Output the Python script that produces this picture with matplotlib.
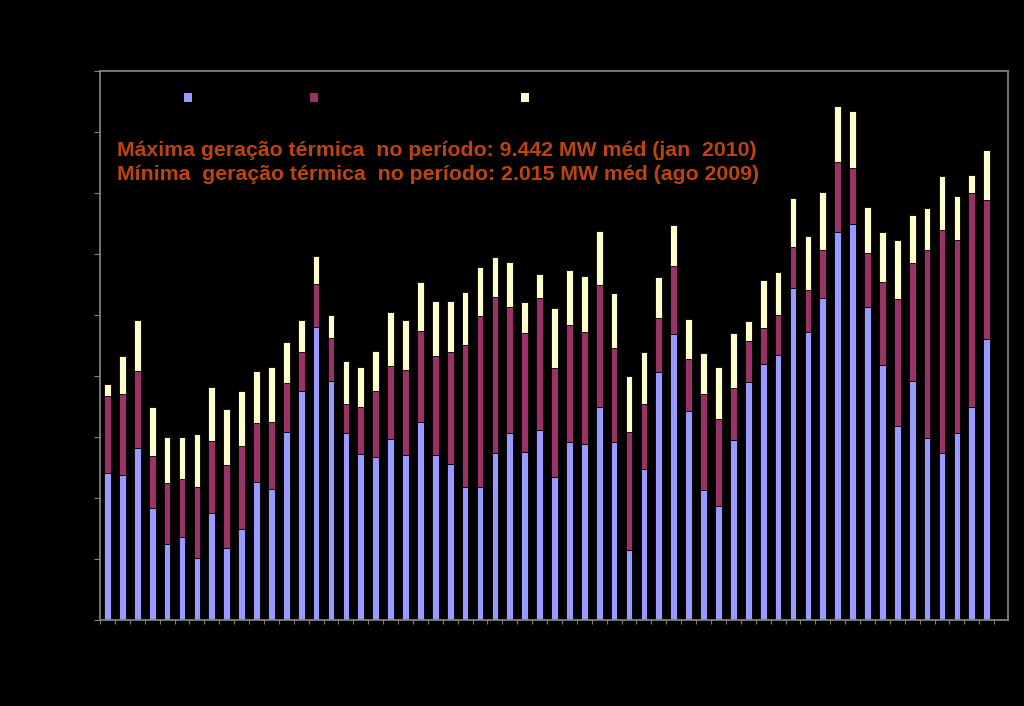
import matplotlib
matplotlib.use("Agg")
import matplotlib.pyplot as plt
from matplotlib.patches import Patch
import numpy as np

# Monthly values (MW médios)
serie_azul = [2409, 2371, 2819, 1841, 1250, 1359, 1021, 1759, 1185, 1490,
              2256, 2141, 3088, 3749, 4804, 3918, 3072, 2727, 2666, 2962,
              2711, 3241, 2704, 2563, 2179, 2174, 2737, 3072, 2760, 3109,
              2350, 2917, 2891, 3487, 2917, 1152, 2481, 4061, 4684, 3433,
              2130, 1862, 2957, 3902, 4192, 4340, 5444, 4729, 5275, 6358,
              6484, 5139, 4176, 3186, 3918, 2983, 2732, 3060, 3487, 4602]
serie_vinho = [1258, 1329, 1258, 853, 1001, 958, 1153, 1170, 1362, 1368,
               973, 1099, 804, 645, 712, 706, 464, 771, 1094, 1203,
               1395, 1493, 1631, 1838, 2337, 2811, 2560, 2061, 1953, 2166,
               1788, 1926, 1831, 1997, 1542, 1925, 1067, 898, 1116, 842,
               1582, 1427, 842, 668, 591, 661, 673, 678, 783, 1149,
               924, 879, 1357, 2084, 1931, 3080, 3664, 3172, 3511, 2281]
serie_creme = [197, 635, 837, 804, 755, 689, 881, 886, 912, 902,
               853, 902, 661, 532, 448, 384, 717, 656, 650, 881,
               820, 815, 891, 825, 863, 794, 651, 738, 492, 389,
               978, 896, 925, 896, 898, 924, 842, 661, 668, 656,
               666, 858, 898, 328, 793, 706, 794, 886, 962, 924,
               940, 750, 830, 952, 788, 689, 881, 717, 290, 825]

texto_max = "Máxima geração térmica  no período: 9.442 MW méd (jan  2010)"
texto_min = "Mínima  geração térmica  no período: 2.015 MW méd (ago 2009)"

cor_azul = "#9999FF"
cor_vinho = "#993366"
cor_creme = "#FFFFCC"
cor_texto = "#BC450F"
cor_eixo = "#808080"

fig = plt.figure(figsize=(10.24, 7.06), dpi=100, facecolor="black")
ax = fig.add_axes([100 / 1024, 1 - 620 / 706, 908 / 1024, 549 / 706])
ax.set_facecolor("black")

x = np.arange(len(serie_azul))
a = np.array(serie_azul)
v = np.array(serie_vinho)
c = np.array(serie_creme)
w = 0.45
kw = dict(width=w, edgecolor="black", linewidth=0.6)
ax.bar(x, a, color=cor_azul, **kw)
ax.bar(x, v, bottom=a, color=cor_vinho, **kw)
ax.bar(x, c, bottom=a + v, color=cor_creme, **kw)

ax.set_xlim(-0.41, len(x) + 0.43)
ax.set_ylim(0, 9000)
ax.set_yticks(np.arange(0, 9001, 1000))
ax.set_xticks(np.arange(len(x) + 1) - 0.5)
ax.tick_params(axis="y", direction="out", length=4, color=cor_eixo,
               labelleft=False)
ax.tick_params(axis="x", direction="out", length=3, color=cor_eixo,
               labelbottom=False)
for s in ax.spines.values():
    s.set_color(cor_eixo)
    s.set_linewidth(1.3)

# legend markers (labels are not readable in the reference)
for cor, px in [(cor_azul, 184), (cor_vinho, 310), (cor_creme, 521)]:
    leg = ax.legend([Patch(facecolor=cor, edgecolor="none")], [""],
                    loc="center left", bbox_to_anchor=(px / 1024, 1 - 98 / 706),
                    bbox_transform=fig.transFigure, frameon=False,
                    handlelength=0.6, handleheight=0.6, borderpad=0,
                    borderaxespad=0, handletextpad=0.3, fontsize=10)
    ax.add_artist(leg)

fig.text(117 / 1024, 1 - 151 / 706, texto_max, color=cor_texto,
         fontsize=15.3, fontweight="bold", family="Liberation Sans",
         va="center", ha="left")
fig.text(117 / 1024, 1 - 175 / 706, texto_min, color=cor_texto,
         fontsize=15.3, fontweight="bold", family="Liberation Sans",
         va="center", ha="left")

fig.savefig("out.png", dpi=100, facecolor="black")
